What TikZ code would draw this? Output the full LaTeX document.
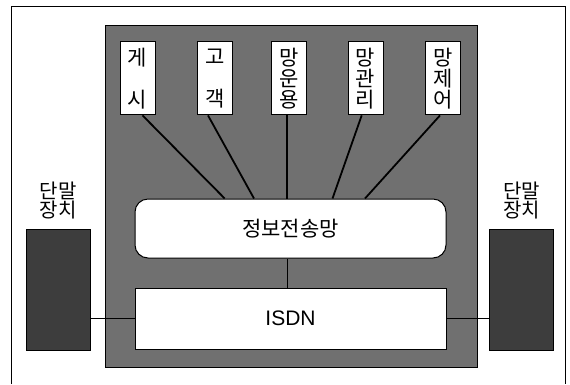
\documentclass[tikz,border=0pt]{standalone}
\usepackage{fontspec}
\newfontfamily\kr{Noto Sans CJK KR}
\newfontfamily\lat{Liberation Sans}
\begin{document}
\begin{tikzpicture}[x=1pt,y=-1pt,
  appbox/.style={draw=black,line width=1pt,fill=white,minimum width=35pt,minimum height=73pt,inner sep=0pt,font=\kr\fontsize{21}{21}\selectfont,align=center},
  wbox/.style={draw=black,line width=1pt,fill=white,inner sep=0pt},
  term/.style={draw=black,line width=0.8pt,fill=black!76,minimum width=64pt,minimum height=121pt,inner sep=0pt},
  lbl/.style={font=\kr\fontsize{20}{19}\selectfont,align=center,inner sep=0pt},
  conn/.style={line width=1.8pt,black},
  thin/.style={line width=1.1pt,black}]
\useasboundingbox (0,0) rectangle (570,384);
\fill[white] (0,0) rectangle (570,384);
% outer frame
\draw[line width=1pt] (11,384) -- (11,6) -- (565,6) -- (565,384);
% gray network box
\node[draw=black,line width=1pt,fill=black!56,minimum width=372pt,minimum height=342pt,inner sep=0pt] (net) at (291,196) {};
% application boxes
\node[appbox] (b1) at (137.5,78.4) {게\\[21pt]시};
\node[appbox] (b2) at (215,78.4) {고\\[21pt]객};
\node[appbox] (b3) at (289,78.4) {망\\운\\용};
\node[appbox] (b4) at (365.5,78.4) {망\\관\\리};
\node[appbox] (b5) at (443,78.4) {망\\제\\어};
% info transfer network
\node[wbox,rounded corners=13pt,minimum width=311pt,minimum height=59pt,font=\kr\fontsize{21}{21}\selectfont] (info) at (290.5,228.5) {정보전송망};
% ISDN
\node[wbox,minimum width=311pt,minimum height=61pt,font=\lat\fontsize{21}{21}\selectfont] (isdn) at (290.5,318.5) {ISDN};
% connectors
\draw[conn] ([xshift=5pt]b1.south) -- ([xshift=-65.8pt]info.north);
\draw[conn] ([xshift=-7pt]b2.south) -- ([xshift=-36.5pt]info.north);
\draw[conn] ([xshift=-2pt]b3.south) -- ([xshift=-3.5pt]info.north);
\draw[conn] ([xshift=-3.8pt]b4.south) -- ([xshift=42pt]info.north);
\draw[conn] ([xshift=-3pt]b5.south) -- ([xshift=74.5pt]info.north);
\draw[thin] ([xshift=-3pt]info.south) -- ([xshift=-3pt]isdn.north);
% terminals
\node[term] (tl) at (58,290) {};
\node[term] (tr) at (521.5,290) {};
\node[lbl] (ll) at (58,201) {단말\\장치};
\node[lbl] (lr) at (521.5,201) {단말\\장치};
\draw[thin] (tl.east |- isdn.center) -- (isdn.west);
\draw[thin] (isdn.east) -- (tr.west |- isdn.center);
\end{tikzpicture}
\end{document}
